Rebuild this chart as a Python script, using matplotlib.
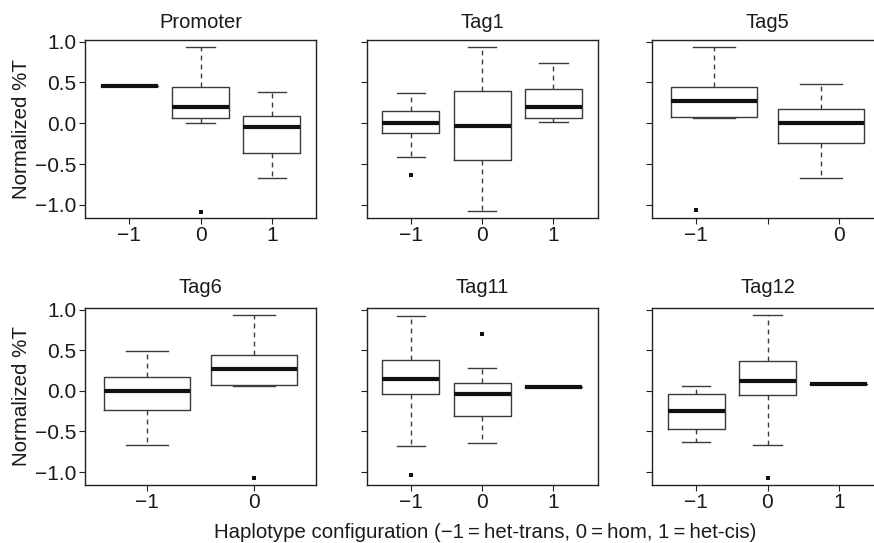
import matplotlib.pyplot as plt
import numpy as np

plt.rcParams['font.family'] = ['Liberation Sans', 'DejaVu Sans']

# --- data (R boxplot statistics, one list per panel) ---
panel_titles = ['Promoter', 'Tag1', 'Tag5', 'Tag6', 'Tag11', 'Tag12']
tick_labels = [['−1', '0', '1'], ['−1', '0', '1'], ['−1', '', '0'],
               ['−1', '0'], ['−1', '0', '1'], ['−1', '0', '1']]
n_boxes = [3, 3, 2, 2, 3, 3]

medians = [[0.46, 0.20, -0.04], [0.005, -0.03, 0.20], [0.275, 0.005],
           [0.0, 0.27], [0.14, -0.035, 0.05], [-0.245, 0.115, 0.085]]
q1 = [[0.46, 0.065, -0.37], [-0.12, -0.445, 0.06], [0.075, -0.24],
      [-0.235, 0.075], [-0.04, -0.31, 0.05], [-0.465, -0.055, 0.085]]
q3 = [[0.46, 0.45, 0.095], [0.155, 0.40, 0.415], [0.445, 0.17],
      [0.165, 0.445], [0.38, 0.095, 0.05], [-0.035, 0.365, 0.085]]
whis_lo = [[0.46, 0.0, -0.675], [-0.41, -1.08, 0.01], [0.07, -0.675],
           [-0.665, 0.06], [-0.68, -0.64, 0.05], [-0.63, -0.665, 0.085]]
whis_hi = [[0.46, 0.94, 0.385], [0.365, 0.935, 0.74], [0.93, 0.485],
           [0.49, 0.935], [0.925, 0.275, 0.05], [0.065, 0.935, 0.085]]
outlier_tick = [[1], [0], [0], [1], [0, 1], [1]]
outlier_value = [[-1.09], [-0.63], [-1.065], [-1.07], [-1.04, 0.70], [-1.07]]

y_ticks = [-1.0, -0.5, 0.0, 0.5, 1.0]


def r_xlim(n):
    # R boxplot: range(at) +- 0.5, then xaxs="r" adds 4%
    return 0.5 - 0.04 * n, n + 0.5 + 0.04 * n


fig = plt.figure(figsize=(8.74, 5.43), dpi=100)
W, H = 874, 543
col_x = [85, 366.7, 652]
row_y = [(40, 218), (308, 485)]
title_pad = [8.5, 11]
ax_w = 231

for i, title in enumerate(panel_titles):
    r, c = divmod(i, 3)
    top, bot = row_y[r]
    ax = fig.add_axes([col_x[c] / W, 1 - bot / H, ax_w / W, (bot - top) / H])

    nt = len(tick_labels[i])
    nb = n_boxes[i]
    t_lo, t_hi = r_xlim(nt)
    b_lo, b_hi = r_xlim(nb)
    scale = (t_hi - t_lo) / (b_hi - b_lo)
    pos = [t_lo + (u - b_lo) * scale for u in range(1, nb + 1)]

    stats = []
    for k in range(nb):
        stats.append(dict(med=medians[i][k], q1=q1[i][k], q3=q3[i][k],
                          whislo=whis_lo[i][k], whishi=whis_hi[i][k], fliers=[]))
    ax.bxp(stats, positions=pos, widths=0.8 * scale, showfliers=False,
           manage_ticks=False,
           boxprops=dict(color='#3a3a3a', lw=1.0),
           medianprops=dict(color='#111111', lw=3.0, solid_capstyle='butt'),
           whiskerprops=dict(color='#3a3a3a', lw=1.0, linestyle=(0, (3.5, 3))),
           capprops=dict(color='#3a3a3a', lw=1.0))

    ox = [outlier_tick[i][k] + 1 for k in range(len(outlier_tick[i]))]
    ax.plot(ox, outlier_value[i], 's', color='#111111', ms=2.6, mew=0)

    ax.set_xlim(t_lo, t_hi)
    ax.set_ylim(-1.16, 1.02)
    ax.set_xticks(range(1, nt + 1))
    ax.set_xticklabels(tick_labels[i])
    ax.set_yticks(y_ticks)
    if c == 0:
        ax.set_yticklabels([f'{v:.1f}'.replace('-', '−') for v in y_ticks])
    else:
        ax.set_yticklabels([])
    ax.tick_params(direction='out', length=4.5, width=0.8, color='#222222',
                   labelsize=15, labelcolor='#1a1a1a', pad=1.5)
    for s in ax.spines.values():
        s.set_color('#222222')
        s.set_linewidth(1.0)
    ax.set_title(title, fontsize=14.5, color='#1a1a1a', pad=title_pad[r])

for yc in [(40 + 218) / 2, (308 + 485) / 2]:
    fig.text(22 / W, 1 - yc / H, 'Normalized %T', rotation=90,
             ha='center', va='center', fontsize=14.8, color='#1a1a1a')

fig.text(485 / W, 1 - 532 / H,
         'Haplotype configuration (−1\u2009=\u2009het-trans, 0\u2009=\u2009hom, 1\u2009=\u2009het-cis)',
         ha='center', va='center', fontsize=14.7, color='#1a1a1a')

fig.savefig('out.png', dpi=100)
